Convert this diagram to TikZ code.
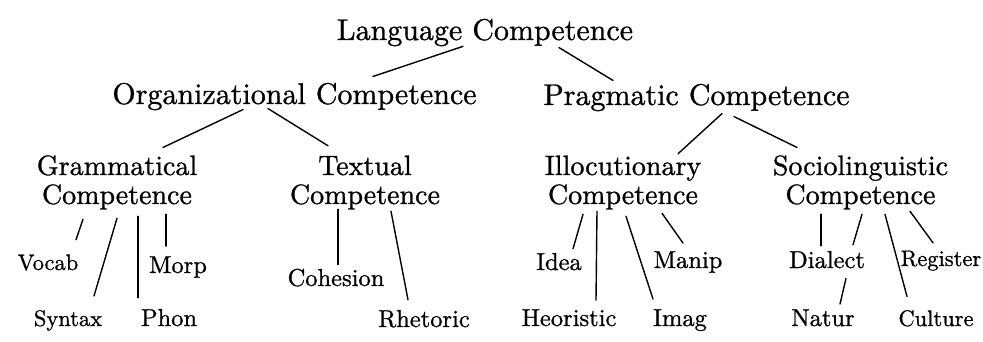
\documentclass[tikz,border=0pt]{standalone}
\usepackage{fontspec}
\setmainfont{lmroman10-regular}[Extension=.otf, FakeBold=0.9]
\tikzset{
  headnode/.style={font=\fontsize{30}{32}\selectfont, anchor=base, inner sep=0pt},
  branchnode/.style={font=\fontsize{28}{29}\selectfont, align=center, anchor=base, inner sep=0pt},
  leafnode/.style={font=\fontsize{24.5}{26}\selectfont, anchor=base, inner sep=0pt},
  leafsmall/.style={leafnode, font=\fontsize{22.5}{24}\selectfont},
  conn/.style={line width=1.4pt, line cap=round}
}
% from.south (shifted) -- to.north (shifted)
\newcommand\link[4]{\draw[conn] ([shift={(#2)}]#1.south) -- ([shift={(#4)}]#3.north);}
\begin{document}
\begin{tikzpicture}[x=1pt, y=-1pt]
\useasboundingbox[fill=white] (0,0) rectangle (983,342);
% top levels
\node[headnode] (lang) at (485,40) {Language Competence};
\node[headnode] (org) at (294.5,104) {Organizational Competence};
\node[headnode] (prag) at (696.5,105) {Pragmatic Competence};
% competences (base = last line)
\node[branchnode] (gram) at (117,204) {Grammatical\\Competence};
\node[branchnode] (text) at (365,204) {Textual\\Competence};
\node[branchnode] (illoc) at (623,204) {Illocutionary\\Competence};
\node[branchnode] (socio) at (860.5,204) {Sociolinguistic\\Competence};
% leaves
\node[leafsmall] (vocab) at (48,270) {Vocab};
\node[leafsmall] (syntax) at (68,326) {Syntax};
\node[leafnode] (phon) at (169,326) {Phon};
\node[leafnode] (morp) at (178,273) {Morp};
\node[leafnode] (cohesion) at (336,286) {Cohesion};
\node[leafnode] (rhetoric) at (424,327) {Rhetoric};
\node[leafnode] (idea) at (559,270) {Idea};
\node[leafnode] (heor) at (569,326) {Heoristic};
\node[leafnode] (imag) at (680,326) {Imag};
\node[leafnode] (manip) at (688,268) {Manip};
\node[leafnode] (dialect) at (827,268) {Dialect};
\node[leafnode] (natur) at (823,326) {Natur};
\node[leafsmall] (culture) at (936,326) {Culture};
\node[leafsmall] (register) at (941,266) {Register};
% connectors
\link{lang}{-22,0}{org}{78.5,-6.2}
\link{lang}{74,1.2}{prag}{-83.5,-3.2}
\link{org}{-51.5,-0.8}{gram}{46,-7.6}
\link{org}{-26.5,-1.8}{text}{-37,-9.6}
\link{prag}{25.5,2.2}{illoc}{55,-1.6}
\link{prag}{37.5,5.2}{socio}{-63.5,-7.6}
\link{gram}{-34,9.6}{vocab}{28,-14.4}
\link{gram}{0,8.6}{syntax}{26,-14}
\link{gram}{21,6.6}{phon}{-31,-11}
\link{gram}{49,4.6}{morp}{-12,-10}
\link{text}{-27,-0.4}{cohesion}{2,-4}
\link{text}{26,1.6}{rhetoric}{-16,-10}
\link{illoc}{-40,4.6}{idea}{14,-4}
\link{illoc}{-26,1.6}{heor}{27,-9}
\link{illoc}{3,6.6}{imag}{-27,-10}
\link{illoc}{39,3.6}{manip}{-5,-8}
\link{socio}{-39.5,4.6}{dialect}{-6,-5}
\link{socio}{1.5,4.6}{dialect}{26,-6}
\link{dialect}{19,10}{natur}{17,-5}
\link{socio}{24.5,4.6}{culture}{-29,-13.4}
\link{socio}{49.5,1.6}{register}{-8,-7.6}
\end{tikzpicture}
\end{document}
